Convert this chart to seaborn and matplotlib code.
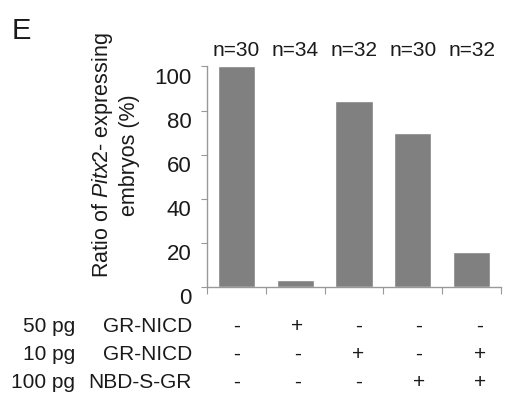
import numpy as np
import matplotlib
matplotlib.use("Agg")
import matplotlib.pyplot as plt
import matplotlib.transforms as mtransforms
import pandas as pd
import seaborn as sns

# data
groups = ["g1", "g2", "g3", "g4", "g5"]
ratio = [100, 2.9, 84.4, 70.0, 15.6]
n_labels = ["n=30", "n=34", "n=32", "n=30", "n=32"]
row_dose = ["50 pg", "10 pg", "100 pg"]
row_name = ["GR-NICD", "GR-NICD", "NBD-S-GR"]
row_marks = [
    ["-", "+", "-", "-", "-"],
    ["-", "-", "+", "-", "+"],
    ["-", "-", "-", "+", "+"],
]

sns.set_style("ticks")
plt.rcParams["font.family"] = ["Liberation Sans", "DejaVu Sans"]
plt.rcParams["mathtext.fontset"] = "custom"
plt.rcParams["mathtext.rm"] = "Liberation Sans"
plt.rcParams["mathtext.it"] = "Liberation Sans:italic"

txt = "#1a1a1a"
df = pd.DataFrame({"group": groups, "ratio": ratio})

fig = plt.figure(figsize=(5.16, 4.03), dpi=100)
ax = fig.add_axes([207 / 516, 1 - 286.5 / 403, 294 / 516, 220 / 403])
sns.barplot(data=df, x="group", y="ratio", color="#808080", saturation=1,
            width=0.63, ax=ax)

ax.set_ylim(0, 100)
ax.set_xlim(-0.5, 4.5)
ax.set_yticks([0, 20, 40, 60, 80, 100])
ax.set_xticks(np.arange(-0.5, 5, 1))
ax.set_xticklabels([])
ax.set_xlabel("")
ax.set_ylabel("")
for s in ["top", "right"]:
    ax.spines[s].set_visible(False)
for s in ["left", "bottom"]:
    ax.spines[s].set_color("#999999")
    ax.spines[s].set_linewidth(1.0)
ax.tick_params(axis="y", colors="#999999", length=4, labelsize=16, labelcolor=txt, pad=7)
ax.tick_params(axis="x", colors="#999999", length=5)

# tick labels sit a little below their ticks in the original
shift = mtransforms.ScaledTranslation(0, -10 / 100, fig.dpi_scale_trans)
for lab in ax.get_yticklabels():
    lab.set_transform(lab.get_transform() + shift)

# n labels above bars
trans = mtransforms.blended_transform_factory(ax.transData, fig.transFigure)
for i, lab in enumerate(n_labels):
    ax.text(i, 1 - 51 / 403, lab, transform=trans, ha="center", va="center",
            fontsize=15, color=txt)

# table rows below
row_base = [332, 360, 388]
for r in range(3):
    yf = 1 - row_base[r] / 403
    fig.text(75 / 516, yf, row_dose[r], ha="right", va="baseline", fontsize=15, color=txt)
    fig.text(192 / 516, yf, row_name[r], ha="right", va="baseline", fontsize=15, color=txt)
    for i, m in enumerate(row_marks[r]):
        ax.text(i * 1.035, yf, m, transform=trans, ha="center", va="baseline",
                fontsize=15, color=txt)

fig.text(115 / 516, 1 - 155 / 403, "Ratio of $\\mathit{Pitx2}$- expressing\nembryos (%)",
         rotation=90, ha="center", va="center", multialignment="center",
         fontsize=15.5, color=txt, linespacing=1.2)

fig.text(12 / 516, 1 - 39 / 403, "E", ha="left", va="baseline", fontsize=21, color=txt)

fig.savefig("out.png", dpi=100)
